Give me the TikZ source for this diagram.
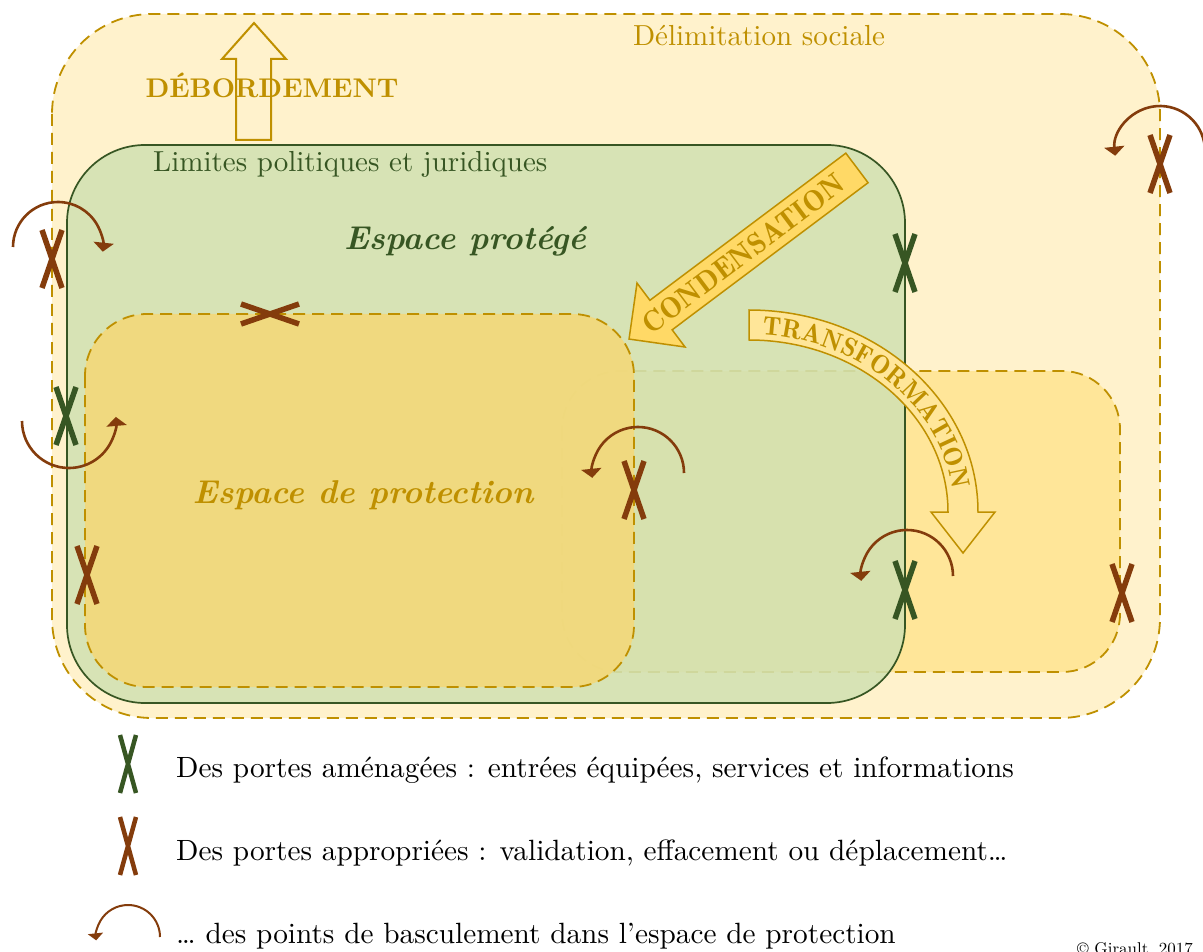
\documentclass[tikz,border=0pt]{standalone}
\usepackage{fontspec}
\setmainfont{lmroman10-regular.otf}[BoldFont=lmroman10-bold.otf, ItalicFont=lmroman10-italic.otf, BoldItalicFont=lmroman10-bolditalic.otf]
\newfontfamily\demifont{lmromandemi10-regular.otf}
\usetikzlibrary{arrows.meta,decorations.text}
\definecolor{cream}{HTML}{FFF2CC}
\definecolor{gold}{HTML}{BF9000}
\definecolor{lgreen}{HTML}{D2E1B2}
\definecolor{dgreen}{HTML}{375623}
\definecolor{brownc}{HTML}{843C0C}
\definecolor{yel}{HTML}{FFE699}
\definecolor{protfill}{HTML}{F3D97A}
\definecolor{condfill}{HTML}{FFD966}
\tikzset{
  gate/.pic={\draw[line width=5.5pt] (-10,-29) -- (10,29) (-10,29) -- (10,-29);},
  lgate/.pic={\draw[line width=4.5pt] (-8,-29) -- (8,29) (-8,29) -- (8,-29);}
}
\begin{document}
\begin{tikzpicture}[x=1pt,y=1pt,
  zone/.style={draw=gold, line width=1.8pt, dash pattern=on 12pt off 7pt},
  bascule/.style={draw=brownc, line width=2.6pt, -{Triangle[width=20pt,length=9pt]}},
  lbascule/.style={draw=brownc, line width=2pt, -{Triangle[width=15pt,length=7pt]}},
  lbl/.style={inner sep=0pt},
  bigtxt/.style={font=\fontsize{29}{32}\selectfont},
  legtxt/.style={lbl, anchor=base west, font=\fontsize{29.3}{32}\selectfont},
]
\useasboundingbox (0,0) rectangle (1203,-952);
\fill[white] (0,0) rectangle (1203,-952);

% zones
\draw[zone, fill=cream, rounded corners=100pt] (52,-14) rectangle (1160,-718);
\draw[zone, fill=yel, rounded corners=58pt] (562,-371) rectangle (1120,-672);
\fill[lgreen, fill opacity=0.88, rounded corners=78pt] (67,-145) rectangle (905,-703);
\draw[dgreen, line width=1.7pt, rounded corners=78pt] (67,-145) rectangle (905,-703);
\fill[protfill, fill opacity=0.9, rounded corners=62pt] (85,-314) rectangle (634,-687);
\draw[zone, rounded corners=62pt] (85,-314) rectangle (634,-687);

% debordement arrow
\draw[gold, line width=2pt] (236,-140) -- (236,-59) -- (222,-59) -- (254,-23) -- (286,-59) -- (271,-59) -- (271,-140) -- cycle;

% texts
\node[lbl, anchor=base, text=gold, bigtxt] (delim) at (759,-46) {Délimitation sociale};
\node[lbl, anchor=base, text=gold, font=\fontsize{27}{30}\selectfont\bfseries] (debord) at (272,-98) {DÉBORDEMENT};
\node[lbl, anchor=base west, text=dgreen, bigtxt] (limites) at (153,-172) {Limites politiques et juridiques};
\node[lbl, anchor=base, text=dgreen, font=\fontsize{33}{36}\selectfont\bfseries\itshape] (protege) at (465,-250) {Espace protégé};
\node[lbl, anchor=base, text=gold, font=\fontsize{33}{36}\selectfont\bfseries\itshape] (protection) at (363,-503) {Espace de protection};

% condensation arrow
\begin{scope}[shift={(743,-253.5)}, rotate=36.9]
\draw[draw=gold, fill=condfill, line width=1.5pt] (-142.5,0) -- (-102.5,40) -- (-102.5,18.5) -- (142.5,18.5) -- (142.5,-18.5) -- (-102.5,-18.5) -- (-102.5,-40) -- cycle;
\node[lbl, transform shape, text=gold, font=\demifont\fontsize{29.5}{32}\selectfont] (cond) at (0,0) {CONDENSATION};
\end{scope}

% transformation arrow
\draw[draw=gold, fill=yel, line width=1.5pt] (749,-310) arc[start angle=90, end angle=0, x radius=229, y radius=202] -- (995,-512) -- (963,-553) -- (931,-512) -- (948,-512) arc[start angle=0, end angle=90, x radius=199, y radius=172] -- cycle;
\path[decorate, decoration={text along path, text={|\demifont\fontsize{26.5}{28}\selectfont\color{gold}|TRANSFORMATION}, text align={left indent=13pt}}] (749,-334.5) arc[start angle=90, end angle=0, x radius=205, y radius=177.5];

% gates
\pic[brownc] at (52,-259) {gate};
\pic[dgreen] at (905,-263) {gate};
\pic[brownc] at (1160,-164) {gate};
\pic[brownc, rotate=90] at (270,-314) {gate};
\pic[dgreen] at (66,-416) {gate};
\pic[brownc] at (87,-575) {gate};
\pic[brownc] at (634,-490) {gate};
\pic[dgreen] at (905,-590) {gate};
\pic[brownc] at (1122,-593) {gate};

% basculement arcs
\draw[bascule] (13,-247) arc[start angle=180, end angle=-6, radius=45];
\draw[bascule] (22,-421) arc[start angle=180, end angle=365, radius=47];
\draw[bascule] (684,-473) arc[start angle=0, end angle=186, radius=46];
\draw[bascule] (953,-576) arc[start angle=0, end angle=186, radius=46];
\draw[bascule] (1204.3,-143.2) arc[start angle=10, end angle=186, radius=45];

% legend
\pic[dgreen] at (128,-764) {lgate};
\pic[brownc] at (128,-846) {lgate};
\draw[lbascule] (160,-937) arc[start angle=0, end angle=186, radius=32];
\node[legtxt] (leg1) at (176,-777) {Des portes aménagées : entrées équipées, services et informations};
\node[legtxt] (leg2) at (176,-860) {Des portes appropriées : validation, effacement ou déplacement…};
\node[legtxt] (leg3) at (176,-943) {… des points de basculement dans l’espace de protection};
\node[lbl, anchor=base west, font=\fontsize{17}{20}\selectfont] (copy) at (1077,-954) {© Girault, 2017};
\end{tikzpicture}
\end{document}
